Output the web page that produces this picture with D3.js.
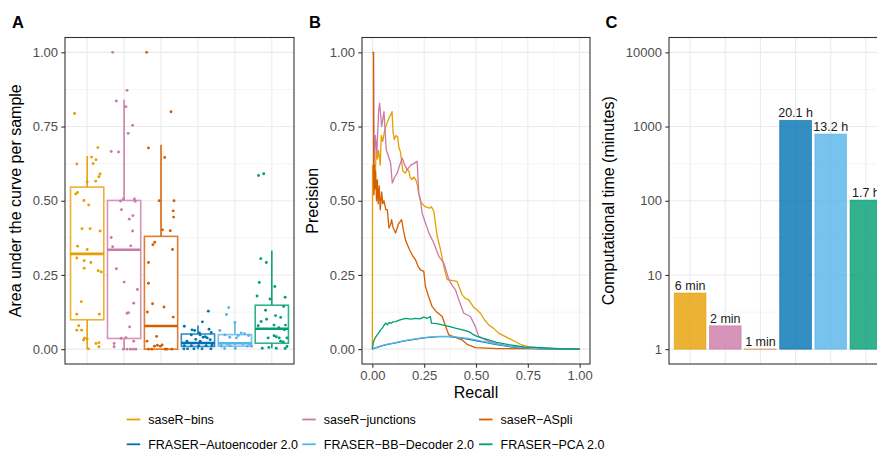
<!DOCTYPE html>
<html>
<head>
<meta charset="utf-8">
<script src="https://cdn.jsdelivr.net/npm/d3@7/dist/d3.min.js"></script>
<style>
  html, body { margin: 0; padding: 0; background: #fff; }
  svg text { font-family: "Liberation Sans", Arial, Helvetica, sans-serif; }
</style>
</head>
<body>
<div id="chart"></div>
<script>
// Methods and colours (shared by all three panels)
const methods = ["saseR\u2212bins", "saseR\u2212junctions", "saseR\u2212ASpli",
    "FRASER\u2212Autoencoder 2.0", "FRASER\u2212BB\u2212Decoder 2.0", "FRASER\u2212PCA 2.0"];
const colors = ["#E69F00", "#CC79A7", "#D55E00", "#0072B2", "#56B4E9", "#009E73"];

// Panel A: box statistics (AUC per sample)
const boxLow  = [0.000, 0.000, 0.000, 0.000, 0.000, 0.003];
const boxQ1   = [0.099, 0.036, 0.000, 0.009, 0.010, 0.020];
const boxMed  = [0.321, 0.335, 0.078, 0.021, 0.020, 0.069];
const boxQ3   = [0.546, 0.501, 0.380, 0.051, 0.049, 0.148];
const boxHigh = [0.651, 0.840, 0.689, 0.080, 0.092, 0.332];

// Panel A: jittered sample points [offset within category, AUC]
const ptsBins = [[-0.34,0.794],[0.29,0.679],[-0.28,0.624],[0.12,0.647],[0.24,0.638],[0.16,0.625],[0.35,0.59],[0.32,0.581],
    [0.23,0.566],[0,0.564],[-0.26,0.528],[-0.31,0.523],[-0.09,0.501],[0.04,0.486],[-0.14,0.406],[0.08,0.406],[0.35,0.398],
    [-0.26,0.347],[0,0.336],[-0.28,0.307],[-0.08,0.298],[0.1,0.292],[-0.08,0.273],[0.3,0.264],[0.38,0.26],[-0.16,0.16],
    [-0.28,0.118],[0.33,0.118],[-0.23,0.079],[-0.28,0.064],[-0.15,0.064],[-0.07,0.037],[-0.1,0.031],[0,0.034],[0.24,0.019],
    [0.32,0.022],[0.32,0.008],[0.03,0.001]];
const ptsJunctions = [[-0.31,1.0],[0.08,0.872],[-0.21,0.836],[0.05,0.817],[0.23,0.754],[0.11,0.727],[-0.35,0.666],[-0.15,0.664],
    [0.28,0.506],[-0.02,0.506],[-0.1,0.499],[0.3,0.498],[-0.07,0.47],[0.24,0.45],[0.14,0.438],[0.23,0.398],[-0.35,0.376],
    [-0.31,0.345],[0.18,0.348],[-0.21,0.271],[0,0.226],[0.36,0.201],[0.26,0.155],[0.08,0.121],[0.12,0.123],[0.15,0.075],
    [-0.08,0.037],[0.05,0.039],[0.26,0.027],[-0.27,0.019],[-0.27,0.008],[-0.02,0.0],[0.08,0.0],[0.17,0.0],[0.25,0.0],[0.32,0.0]];
const ptsASpli = [[-0.39,1.0],[0.27,0.8],[-0.34,0.678],[0.1,0.646],[-0.05,0.5],[0.35,0.5],[0.33,0.466],[0.34,0.445],[0.04,0.402],
    [0.25,0.399],[-0.17,0.36],[-0.22,0.352],[0.31,0.336],[-0.34,0.292],[-0.34,0.222],[-0.23,0.153],[0.08,0.142],[-0.37,0.125],
    [0.33,0.108],[-0.12,0.043],[-0.38,0.027],[0.03,0.014],[-0.18,0.01],[-0.1,0.013],[-0.02,0.01],[-0.34,0.0],[-0.25,0.0],
    [0.11,0.0],[0.16,0.0],[0.29,0.0]];
const ptsAutoencoder = [[-0.37,0.077],[0.28,0.128],[0.12,0.092],[-0.16,0.065],[-0.09,0.063],[0.04,0.055],[0.3,0.067],[0.36,0.056],
    [-0.18,0.048],[0.06,0.048],[0.2,0.042],[0.14,0.04],[0.25,0.038],[-0.06,0.033],[0.33,0.032],[-0.3,0.027],[0.06,0.027],
    [-0.37,0.012],[-0.18,0.012],[0.02,0.012],[0.22,0.012],[0.38,0.013],[-0.38,0.001],[-0.28,0.001],[-0.11,0.001],[0.11,0.001],
    [0.35,0.001]];
const ptsDecoder = [[-0.17,0.14],[-0.23,0.117],[0,0.09],[-0.41,0.063],[0.17,0.055],[0.26,0.052],[-0.27,0.048],[0.09,0.046],
    [0.37,0.046],[-0.14,0.04],[0.04,0.038],[-0.38,0.018],[-0.2,0.017],[0,0.018],[0.22,0.017],[0.4,0.018],[0.43,0.02],
    [-0.37,0.01],[-0.13,0.011],[0.34,0.01],[0.45,0.01],[-0.28,0.002],[0.01,0.002]];
const ptsPCA = [[-0.36,0.585],[-0.22,0.591],[-0.3,0.305],[-0.15,0.292],[-0.34,0.225],[0.08,0.211],[-0.4,0.179],[-0.05,0.169],
    [0.36,0.175],[-0.17,0.131],[0.32,0.144],[0.1,0.113],[0.24,0.107],[-0.29,0.093],[-0.14,0.101],[-0.37,0.079],[0.06,0.081],
    [0.19,0.072],[0.37,0.081],[0.34,0.065],[-0.1,0.038],[0.06,0.045],[0.12,0.042],[0.2,0.038],[0.24,0.027],[0.31,0.024],
    [0.41,0.038],[-0.26,0.003],[-0.08,0.006],[0.12,0.003],[0.36,0.002],[0.41,0.009]];
const points = [ptsBins, ptsJunctions, ptsASpli, ptsAutoencoder, ptsDecoder, ptsPCA];

// Panel B: precision-recall curves [recall, precision]
const prBins = [[0,0],[0.001,0.62],[0.004,0.52],[0.008,0.6],[0.012,0.55],[0.019,0.68],[0.024,0.64],[0.03,0.67],[0.038,0.62],
    [0.043,0.72],[0.05,0.7],[0.06,0.74],[0.075,0.77],[0.095,0.8],[0.1,0.73],[0.106,0.706],[0.114,0.72],[0.122,0.715],
    [0.128,0.68],[0.135,0.666],[0.14,0.64],[0.147,0.6],[0.159,0.593],[0.168,0.605],[0.176,0.6],[0.182,0.58],[0.19,0.571],
    [0.2,0.58],[0.21,0.57],[0.218,0.55],[0.223,0.526],[0.232,0.5],[0.24,0.49],[0.255,0.48],[0.276,0.475],[0.285,0.48],
    [0.297,0.464],[0.305,0.42],[0.313,0.38],[0.329,0.335],[0.345,0.278],[0.361,0.234],[0.38,0.232],[0.409,0.228],
    [0.433,0.183],[0.45,0.17],[0.465,0.166],[0.49,0.14],[0.505,0.132],[0.521,0.121],[0.54,0.1],[0.561,0.082],[0.585,0.07],
    [0.609,0.054],[0.635,0.045],[0.657,0.037],[0.69,0.025],[0.721,0.014],[0.76,0.007],[0.817,0.003],[0.9,0.001],[1,0]];
const prJunctions = [[0,1],[0.006,1],[0.008,0.62],[0.015,0.72],[0.022,0.66],[0.03,0.8],[0.035,0.829],[0.045,0.75],[0.056,0.8],
    [0.067,0.672],[0.078,0.65],[0.088,0.627],[0.096,0.56],[0.108,0.58],[0.12,0.593],[0.132,0.62],[0.144,0.644],[0.156,0.62],
    [0.168,0.605],[0.185,0.62],[0.2,0.625],[0.216,0.633],[0.224,0.526],[0.232,0.503],[0.24,0.459],[0.256,0.425],[0.273,0.391],
    [0.297,0.357],[0.321,0.312],[0.345,0.29],[0.369,0.234],[0.385,0.215],[0.401,0.2],[0.417,0.166],[0.441,0.121],
    [0.473,0.11],[0.497,0.076],[0.513,0.043],[0.561,0.026],[0.61,0.016],[0.657,0.009],[0.75,0.004],[0.85,0.002],[1,0]];
const prASpli = [[0,1],[0.005,1],[0.006,0.58],[0.008,0.52],[0.01,0.62],[0.013,0.54],[0.016,0.6],[0.02,0.5],[0.024,0.57],
    [0.028,0.49],[0.033,0.55],[0.038,0.47],[0.045,0.53],[0.05,0.49],[0.056,0.5],[0.065,0.47],[0.072,0.47],[0.08,0.408],
    [0.088,0.42],[0.093,0.436],[0.1,0.41],[0.112,0.391],[0.125,0.42],[0.141,0.436],[0.15,0.4],[0.16,0.368],[0.176,0.34],
    [0.192,0.318],[0.208,0.301],[0.22,0.28],[0.232,0.267],[0.248,0.262],[0.256,0.211],[0.27,0.18],[0.288,0.144],[0.31,0.125],
    [0.337,0.11],[0.352,0.08],[0.369,0.048],[0.4,0.04],[0.433,0.031],[0.46,0.015],[0.497,0.005],[0.6,0.002],[1,0]];
const prAutoencoder = [[0,0],[0.02,0.005],[0.05,0.012],[0.08,0.017],[0.112,0.021],[0.15,0.027],[0.208,0.034],[0.26,0.039],
    [0.32,0.042],[0.37,0.042],[0.417,0.039],[0.46,0.034],[0.497,0.029],[0.55,0.022],[0.593,0.016],[0.65,0.01],[0.721,0.004],
    [0.8,0.002],[1,0]];
const prDecoder = [[0,0],[0.02,0.006],[0.05,0.013],[0.08,0.018],[0.112,0.022],[0.15,0.028],[0.208,0.035],[0.26,0.04],
    [0.32,0.043],[0.37,0.043],[0.417,0.04],[0.46,0.036],[0.497,0.031],[0.55,0.024],[0.593,0.018],[0.65,0.011],[0.721,0.005],
    [0.8,0.002],[1,0]];
const prPCA = [[0,0],[0.004,0.02],[0.008,0.03],[0.013,0.037],[0.02,0.045],[0.03,0.055],[0.04,0.065],[0.048,0.071],[0.056,0.08],
    [0.064,0.088],[0.072,0.082],[0.08,0.09],[0.09,0.087],[0.1,0.092],[0.112,0.093],[0.13,0.098],[0.16,0.104],[0.185,0.101],
    [0.208,0.104],[0.23,0.102],[0.248,0.108],[0.265,0.104],[0.28,0.11],[0.285,0.088],[0.31,0.086],[0.337,0.082],[0.37,0.077],
    [0.4,0.071],[0.43,0.066],[0.465,0.059],[0.485,0.05],[0.505,0.043],[0.535,0.036],[0.561,0.031],[0.6,0.023],[0.657,0.015],
    [0.73,0.008],[0.817,0.005],[0.9,0.002],[1,0]];
const curves = [prBins, prJunctions, prASpli, prAutoencoder, prDecoder, prPCA];

// Panel C: computational time in minutes
const timeMinutes = [5.7, 2.06, 1.0, 1206, 792, 102];
const timeLabels = ["6 min", "2 min", "1 min", "20.1 h", "13.2 h", "1.7 h"];

const unitTicks = [0, 0.25, 0.5, 0.75, 1];
const unitTickLabels = ["0.00", "0.25", "0.50", "0.75", "1.00"];
const unitMinor = [0.125, 0.375, 0.625, 0.875];
const logTicks = [1, 10, 100, 1000, 10000];
const logMinor = [Math.sqrt(10), Math.sqrt(1000), Math.sqrt(100000), Math.sqrt(1e7)];

// Lay-out
const W = 877, H = 455;
const pTop = 37.5, pBottom = 364;
const gridCol = "#EBEBEB", frameCol = "#333333", tickTextCol = "#4D4D4D";

const svg = d3.select("#chart").append("svg")
    .attr("width", W).attr("height", H)
    .attr("viewBox", `0 0 ${W} ${H}`);
svg.append("rect").attr("width", W).attr("height", H).attr("fill", "#fff");

function hGrid(g, y, major, minor, x0, x1) {
    g.selectAll(null).data(minor).join("line")
        .attr("x1", x0).attr("x2", x1).attr("y1", d => y(d)).attr("y2", d => y(d))
        .attr("stroke", gridCol).attr("stroke-width", 0.55);
    g.selectAll(null).data(major).join("line")
        .attr("x1", x0).attr("x2", x1).attr("y1", d => y(d)).attr("y2", d => y(d))
        .attr("stroke", gridCol).attr("stroke-width", 1.1);
}

function vGrid(g, xs, width) {
    g.selectAll(null).data(xs).join("line")
        .attr("x1", d => d).attr("x2", d => d).attr("y1", pTop).attr("y2", pBottom)
        .attr("stroke", gridCol).attr("stroke-width", width);
}

function yAxis(g, y, ticks, labels, x0) {
    const ax = g.append("g").attr("transform", `translate(${x0},0)`)
        .call(d3.axisLeft(y).tickValues(ticks).tickFormat((d, i) => labels[i]).tickSize(3.7).tickPadding(3.3));
    ax.select(".domain").remove();
    ax.selectAll("line").attr("stroke", frameCol).attr("stroke-width", 1.1);
    ax.selectAll("text").attr("fill", tickTextCol).style("font-size", "13px")
        .style("font-family", "'Liberation Sans', Arial, sans-serif");
}

function frame(g, x0, x1) {
    g.append("rect").attr("x", x0).attr("y", pTop).attr("width", x1 - x0).attr("height", pBottom - pTop)
        .attr("fill", "none").attr("stroke", frameCol).attr("stroke-width", 1.1);
}

function title(text, x, y, rotate) {
    const t = svg.append("text").attr("text-anchor", "middle").style("font-size", "16px").attr("fill", "#000").text(text);
    if (rotate) t.attr("transform", `translate(${x},${y}) rotate(-90)`);
    else t.attr("x", x).attr("y", y);
}

function tag(text, x) {
    svg.append("text").attr("x", x).attr("y", 27.5).style("font-size", "16.5px").style("font-weight", "700").text(text);
}

// ---------- Panel A ----------
const aL = 65, aR = 294;
const xA = d3.scalePoint().domain(d3.range(6)).range([aL, aR]).padding(0.6);
const yA = d3.scaleLinear().domain([-0.05, 1.05]).range([pBottom, pTop]);
const gA = svg.append("g");
hGrid(gA, yA, unitTicks, unitMinor, aL, aR);
vGrid(gA, d3.range(6).map(i => xA(i)), 1.1);

const boxW = xA.step() * 0.9;
const boxes = gA.selectAll("g.box").data(d3.range(6)).join("g").attr("class", "box");
boxes.append("line")
    .attr("x1", i => xA(i)).attr("x2", i => xA(i))
    .attr("y1", i => yA(boxQ3[i])).attr("y2", i => yA(boxHigh[i]))
    .attr("stroke", i => colors[i]).attr("stroke-width", 1.5);
boxes.append("line")
    .attr("x1", i => xA(i)).attr("x2", i => xA(i))
    .attr("y1", i => yA(boxQ1[i])).attr("y2", i => yA(boxLow[i]))
    .attr("stroke", i => colors[i]).attr("stroke-width", 1.5);
boxes.append("rect")
    .attr("x", i => xA(i) - boxW / 2).attr("width", boxW)
    .attr("y", i => yA(boxQ3[i])).attr("height", i => yA(boxQ1[i]) - yA(boxQ3[i]))
    .attr("fill", "#fff").attr("stroke", i => colors[i]).attr("stroke-opacity", 0.8).attr("stroke-width", 1.6);
boxes.append("line")
    .attr("x1", i => xA(i) - boxW / 2).attr("x2", i => xA(i) + boxW / 2)
    .attr("y1", i => yA(boxMed[i])).attr("y2", i => yA(boxMed[i]))
    .attr("stroke", i => colors[i]).attr("stroke-width", 2.6);

points.forEach((pts, i) => {
    gA.append("g").selectAll("circle").data(pts).join("circle")
        .attr("cx", d => xA(i) + d[0] * xA.step())
        .attr("cy", d => yA(d[1]))
        .attr("r", 1.45).attr("fill", colors[i]);
});
yAxis(gA, yA, unitTicks, unitTickLabels, aL);
frame(gA, aL, aR);
title("Area under the curve per sample", 25 - 4, (pTop + pBottom) / 2, true);
tag("A", 12);

// ---------- Panel B ----------
const bL = 362, bR = 590;
const xB = d3.scaleLinear().domain([-0.05, 1.05]).range([bL, bR]);
const yB = yA;
const gB = svg.append("g");
hGrid(gB, yB, unitTicks, unitMinor, bL, bR);
vGrid(gB, unitMinor.map(xB), 0.55);
vGrid(gB, unitTicks.map(xB), 1.1);

const line = d3.line().x(d => xB(d[0])).y(d => yB(d[1]));
curves.forEach((c, i) => {
    gB.append("path").datum(c).attr("d", line)
        .attr("fill", "none").attr("stroke", colors[i]).attr("stroke-width", 1.3)
        .attr("stroke-linejoin", "round");
});
yAxis(gB, yB, unitTicks, unitTickLabels, bL);
const xAxB = gB.append("g").attr("transform", `translate(0,${pBottom})`)
    .call(d3.axisBottom(xB).tickValues(unitTicks).tickFormat((d, i) => unitTickLabels[i]).tickSize(3.7).tickPadding(3.3));
xAxB.select(".domain").remove();
xAxB.selectAll("line").attr("stroke", frameCol).attr("stroke-width", 1.1);
xAxB.selectAll("text").attr("fill", tickTextCol).style("font-size", "13px")
    .style("font-family", "'Liberation Sans', Arial, sans-serif");
frame(gB, bL, bR);
title("Precision", 321.7 - 4, (pTop + pBottom) / 2, true);
title("Recall", (bL + bR) / 2, 398);
tag("B", 309);

// ---------- Panel C ----------
const cL = 669, cR = 887;
const xC = d3.scalePoint().domain(d3.range(6)).range([cL, cR]).padding(0.6);
const yC = d3.scaleLog().domain([Math.pow(10, -0.2), Math.pow(10, 4.2)]).range([pBottom, pTop]);
const gC = svg.append("g");
hGrid(gC, yC, logTicks, logMinor, cL, cR);
vGrid(gC, d3.range(6).map(i => xC(i)), 1.1);

const barW = xC.step() * 0.9;
gC.selectAll("rect.bar").data(timeMinutes).join("rect").attr("class", "bar")
    .attr("x", (d, i) => xC(i) - barW / 2).attr("width", barW)
    .attr("y", d => yC(d)).attr("height", d => Math.max(yC(1) - yC(d), 0.01))
    .attr("fill", (d, i) => colors[i]).attr("fill-opacity", 0.8)
    .attr("stroke", (d, i) => colors[i]).attr("stroke-opacity", 0.8).attr("stroke-width", 0.8);
gC.selectAll("text.lab").data(timeMinutes).join("text").attr("class", "lab")
    .attr("x", (d, i) => xC(i)).attr("y", d => yC(d) - 3.2)
    .attr("text-anchor", "middle").style("font-size", "12.5px").attr("fill", "#1A1A1A")
    .text((d, i) => timeLabels[i]);
yAxis(gC, yC, logTicks, logTicks.map(String), cL);
frame(gC, cL, cR);
title("Computational time (minutes)", 618 - 4, (pTop + pBottom) / 2, true);
tag("C", 605.5);

// ---------- Legend ----------
const legCols = [126.7, 302.3, 479];
const legRows = [419.5, 444.3];
const leg = svg.append("g");
methods.forEach((m, i) => {
    const x = legCols[i % 3], y = legRows[Math.floor(i / 3)];
    leg.append("line").attr("x1", x).attr("x2", x + 13.5).attr("y1", y).attr("y2", y)
        .attr("stroke", colors[i]).attr("stroke-width", 1.8);
    leg.append("text").attr("x", x + 21.5).attr("y", y + 4.5)
        .style("font-size", "12.5px").attr("fill", "#000").text(m);
});
</script>
</body>
</html>
